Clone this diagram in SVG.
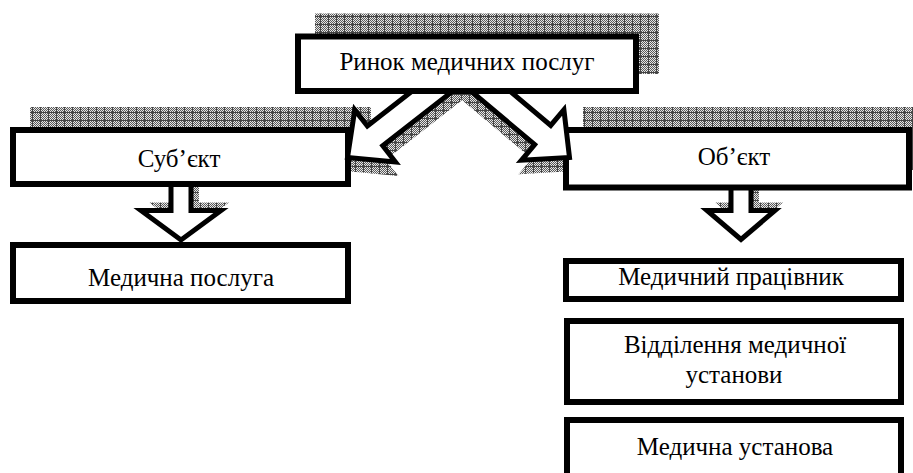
<svg xmlns="http://www.w3.org/2000/svg" width="913" height="473" viewBox="0 0 913 473" font-family="'Liberation Serif', 'Times New Roman', serif">
<defs>
<pattern id="chk" width="2" height="2" patternUnits="userSpaceOnUse"><rect width="2" height="2" fill="#e6e6e6"/><rect width="1" height="1" fill="#5a5a5a"/><rect x="1" y="1" width="1" height="1" fill="#5a5a5a"/></pattern>
<pattern id="sh" width="8" height="8" patternUnits="userSpaceOnUse"><rect width="8" height="8" fill="url(#chk)"/><rect width="8" height="1" fill="#444"/><rect width="1" height="8" fill="#444"/></pattern>
</defs>
<style>
.box{fill:#fff;stroke:#000;stroke-width:6}
.shadow{fill:url(#sh);stroke:none}
.arr{fill:#fff;stroke:#000;stroke-width:5;stroke-linejoin:miter}
.t{font-family:'Liberation Serif',serif;font-size:25px;font-weight:normal;fill:#000;text-anchor:middle}
</style>
<rect width="913" height="473" fill="#fff"/>
<g id="shadows">
<rect class="shadow" x="30" y="107" width="341" height="60"/>
<rect class="shadow" x="583" y="107" width="349" height="63"/>
</g>
<g id="connectors">
<g id="arrow-shadows">
<polygon class="shadow" transform="translate(3,14)" points="347.5,157.5 395.41,161.94 382.78,145.79 461.58,84.19 446.18,64.49 367.38,126.09 354.75,109.94"/>
<polygon class="shadow" transform="translate(-3,14)" points="569.5,157.5 521.47,160.28 534.65,144.58 458.05,80.27 474.13,61.11 550.73,125.42 563.91,109.72"/>
<polygon class="shadow" transform="translate(8,-8)" points="171,175 191,175 191,210.5 221,210.5 181,240 141,210.5 171,210.5"/>
<polygon class="shadow" transform="translate(8,-8)" points="731,175 751,175 751,210.5 775,210.5 741,239.5 707,210.5 731,210.5"/>
</g>
<polygon id="arrow-sub" class="arr" points="171,175 191,175 191,210.5 221,210.5 181,240 141,210.5 171,210.5"/>
<polygon id="arrow-obj" class="arr" points="731,175 751,175 751,210.5 775,210.5 741,239.5 707,210.5 731,210.5"/>
</g>
<g id="node-subject">
<rect class="box" x="13" y="130" width="335" height="54"/>
<text class="t" x="179" y="167">Суб’єкт</text>
</g>
<g id="node-object">
<rect class="box" x="566" y="130" width="343" height="57.5"/>
<text class="t" x="734" y="165">Об’єкт</text>
</g>
<g id="node-service">
<rect class="box" x="13" y="245" width="335" height="56"/>
<text class="t" x="181" y="286">Медична послуга</text>
</g>
<g id="node-worker">
<rect class="box" x="566" y="261" width="335" height="38"/>
<text class="t" x="731" y="285">Медичний працівник</text>
</g>
<g id="node-department">
<rect class="box" x="567" y="321" width="334" height="81"/>
<text class="t" x="735" y="353">Відділення медичної</text>
<text class="t" x="734" y="383">установи</text>
</g>
<g id="node-institution">
<rect class="box" x="567" y="420" width="334" height="70"/>
<text class="t" x="735" y="455">Медична установа</text>
</g>
<g id="connectors-diagonal">
<polygon id="arrow-left" class="arr" points="347.5,157.5 395.41,161.94 382.78,145.79 461.58,84.19 446.18,64.49 367.38,126.09 354.75,109.94"/>
<polygon id="arrow-right" class="arr" points="569.5,157.5 521.47,160.28 534.65,144.58 458.05,80.27 474.13,61.11 550.73,125.42 563.91,109.72"/>
</g>
<g id="node-market">
<rect class="shadow" x="315" y="13.5" width="344" height="60.5"/>
<rect class="box" x="298" y="36.5" width="338" height="54.5"/>
<text class="t" x="467" y="70">Ринок медичних послуг</text>
</g>
</svg>
